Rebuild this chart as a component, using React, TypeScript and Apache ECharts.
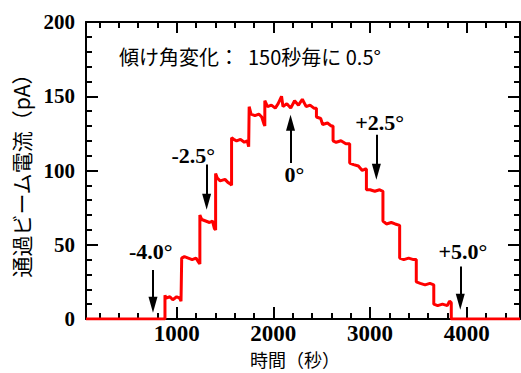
import React, { useEffect, useRef } from "react";
import * as echarts from "echarts";

// Beam current trace (time s, current pA)
const traceTime: number[] = [
  62, 879, 879, 890, 930, 960, 1000, 1030, 1045, 1052,
  1052, 1080, 1120, 1160, 1200, 1230, 1240,
  1240, 1260, 1300, 1340, 1370, 1390, 1403,
  1403, 1420, 1450, 1500, 1530, 1555, 1568,
  1568, 1590, 1620, 1660, 1700, 1730, 1745, 1750,
  1750, 1770, 1810, 1850, 1880, 1905, 1912,
  1912, 1940, 1980, 2020, 2050, 2085, 2100, 2140, 2180, 2220, 2260, 2300, 2340, 2380, 2420, 2446,
  2446, 2490, 2510, 2560, 2600, 2618,
  2618, 2650, 2700, 2750, 2790,
  2790, 2830, 2880, 2920, 2950, 2963,
  2963, 3000, 3050, 3100, 3134,
  3134, 3170, 3220, 3260, 3307,
  3307, 3350, 3400, 3450, 3479,
  3479, 3520, 3570, 3620, 3660,
  3660, 3700, 3750, 3800, 3823, 3841,
  3841, 4552,
];
const traceCurrent: number[] = [
  0, 0, 16, 14, 15, 13, 15, 14, 12, 12,
  41, 42, 41, 40, 41, 38, 37,
  70, 67, 66, 65, 66, 61, 60,
  98, 95, 93, 94, 92, 91, 90,
  122, 121, 120, 121, 119, 120, 116, 116,
  143, 138, 137, 138, 136, 131, 130,
  147, 143, 144, 142, 145, 150, 143, 145, 142, 147, 144, 148, 143, 144, 142, 142,
  136, 135, 131, 132, 130, 130,
  120, 119, 120, 118, 118,
  105, 104, 103, 100, 101, 101,
  87, 87, 86, 87, 86,
  66, 64, 65, 64, 63,
  41, 40, 41, 40, 40,
  25, 24, 23, 24, 23,
  10, 9, 10, 9, 12, 11,
  0, 0,
];

// Tilt-angle annotations
const annoText: string[] = ["-4.0°", "-2.5°", "0°", "+2.5°", "+5.0°"];
const annoLabelX: number[] = [732, 1171, 2219, 3100, 3961];
const annoLabelY: number[] = [45.6, 110, 97, 132, 45.5];
const arrowX: number[] = [755, 1310, 2178, 3066, 3934];
const arrowFromY: number[] = [33, 104, 105, 124, 35.4];
const arrowToY: number[] = [9.6, 78.9, 132.1, 99.1, 11.7];

// Axes
const xMin = 62;
const xMax = 4552;
const xMajorTicks: number[] = [1000, 2000, 3000, 4000];
const xMinorTicks: number[] = [200, 400, 600, 800, 1200, 1400, 1600, 1800, 2200, 2400, 2600, 2800, 3200, 3400, 3600, 3800, 4200, 4400];
const yMin = 0;
const yMax = 200;
const yInterval = 50;

const titleText = "傾け角変化：  150秒毎に 0.5°";
const xName = "時間（秒）";
const yName = "通過ビーム電流（pA）";

const serif = "'Liberation Serif', 'Times New Roman', serif";
const cjk = "'Noto Sans CJK JP', 'Noto Sans', sans-serif";

export default function App() {
  const ref = useRef<HTMLDivElement>(null);
  useEffect(() => {
    if (!ref.current) return;
    const chart = echarts.init(ref.current, undefined, { renderer: "svg" });
    const trace = traceTime.map((t, i) => [t, traceCurrent[i]]);
    const annos = annoLabelX.map((x, i) => [x, annoLabelY[i]]);
    const arrows = arrowX.map((x, i) => [
      { coord: [x, arrowFromY[i]] },
      { coord: [x, arrowToY[i]] },
    ]);
    const blackLine = { lineStyle: { color: "#000", width: 2 } };
    const serifBold = (size: number) => ({
      fontFamily: serif,
      fontWeight: "bold" as const,
      fontStyle: "normal" as const,
      fontSize: size,
      color: "#000",
      opacity: 1,
    });
    const baseX = {
      type: "value" as const,
      min: xMin,
      max: xMax,
      splitLine: { show: false },
    };
    chart.setOption({
      animation: false,
      backgroundColor: "#fff",
      textStyle: { fontFamily: serif },
      grid: { left: 86, right: 1, top: 22, bottom: 54, containLabel: false, outerBoundsMode: "none" },
      title: {
        text: titleText,
        left: 114,
        top: 41,
        textStyle: { fontFamily: cjk, fontSize: 20, fontWeight: "normal", color: "#000" },
      },
      xAxis: [
        {
          ...baseX,
          position: "bottom",
          axisLine: { show: true, onZero: false, ...blackLine },
          axisTick: { show: true, inside: true, length: 12, customValues: xMajorTicks, ...blackLine },
          axisLabel: {
            show: true,
            customValues: xMajorTicks,
            margin: 3,
            formatter: (v: number) => "{t|" + String(v) + "}",
            rich: { t: serifBold(23) },
            ...serifBold(23),
          },
          name: xName,
          nameLocation: "middle",
          nameGap: 25,
          nameTextStyle: { fontFamily: cjk, fontSize: 18, lineHeight: 18, color: "#000", padding: [0, 16, 0, 0] },
        },
        {
          ...baseX,
          position: "bottom",
          axisLine: { show: false, onZero: false },
          axisTick: { show: true, inside: true, length: 6, customValues: xMinorTicks, ...blackLine },
          axisLabel: { show: false },
        },
        {
          ...baseX,
          position: "top",
          axisLine: { show: true, onZero: false, ...blackLine },
          axisTick: { show: true, inside: true, length: 11, customValues: xMajorTicks, ...blackLine },
          axisLabel: { show: false },
        },
        {
          ...baseX,
          position: "top",
          axisLine: { show: false, onZero: false },
          axisTick: { show: true, inside: true, length: 6, customValues: xMinorTicks, ...blackLine },
          axisLabel: { show: false },
        },
      ],
      yAxis: [
        {
          type: "value",
          min: yMin,
          max: yMax,
          interval: yInterval,
          position: "left",
          splitLine: { show: false },
          axisLine: { show: true, onZero: false, ...blackLine },
          axisTick: { show: true, inside: true, length: 12, ...blackLine },
          minorTick: { show: true, splitNumber: 5, length: 6, ...blackLine },
          axisLabel: {
            margin: 11,
            formatter: (v: number) => "{t|" + String(v) + "}",
            rich: { t: serifBold(21) },
            ...serifBold(21),
          },
          name: yName,
          nameLocation: "middle",
          nameGap: 55,
          nameRotate: 90,
          nameTextStyle: { fontFamily: cjk, fontSize: 21, color: "#000" },
        },
        {
          type: "value",
          min: yMin,
          max: yMax,
          interval: yInterval,
          position: "right",
          splitLine: { show: false },
          axisLine: { show: true, onZero: false, ...blackLine },
          axisTick: { show: true, inside: true, length: 12, ...blackLine },
          minorTick: { show: true, splitNumber: 5, length: 6, ...blackLine },
          axisLabel: { show: false },
        },
      ],
      series: [
        {
          type: "line",
          xAxisIndex: 0,
          yAxisIndex: 0,
          data: trace,
          showSymbol: false,
          symbol: "none",
          lineStyle: { color: "#ff0000", width: 3 },
          itemStyle: { color: "#ff0000" },
          z: 3,
          markLine: {
            silent: true,
            symbol: ["none", "triangle"],
            symbolSize: [9, 16],
            label: { show: false },
            lineStyle: { color: "#000", width: 2, type: "solid" },
            itemStyle: { color: "#000" },
            emphasis: { disabled: true },
            data: arrows,
          },
        },
        {
          type: "scatter",
          xAxisIndex: 0,
          yAxisIndex: 0,
          data: annos,
          symbolSize: 0,
          silent: true,
          itemStyle: { color: "#000", opacity: 1 },
          label: {
            show: true,
            position: "inside",
            formatter: (p: any) => annoText[p.dataIndex],
            textBorderWidth: 0,
            ...serifBold(22),
          },
          z: 4,
        },
      ],
    });
    return () => chart.dispose();
  }, []);
  return (
    <div
      ref={ref}
      style={{ position: "fixed", left: 0, top: 0, width: 521, height: 373, background: "#fff" }}
    />
  );
}
